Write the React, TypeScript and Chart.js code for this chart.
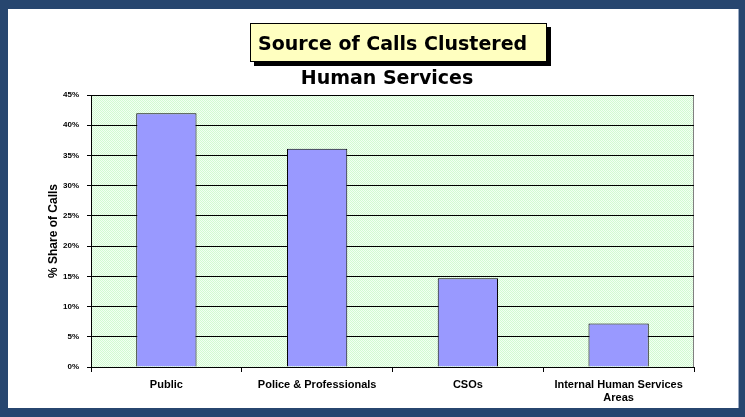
import React, { useEffect, useRef } from "react";
import { Chart, registerables } from "chart.js";

Chart.register(...registerables);

const categories: (string | string[])[] = [
  "Public",
  "Police & Professionals",
  "CSOs",
  ["Internal Human Services", "Areas"],
];
const shareOfCalls: number[] = [42.0, 36.1, 14.7, 7.2];
const yTickMax = 45;
const yTickStep = 5;
const mainTitle = "Source of Calls Clustered";
const subTitle = "Human Services";
const yAxisTitle = "% Share of Calls";

function makePattern(ctx: CanvasRenderingContext2D): CanvasPattern | string {
  const c = document.createElement("canvas");
  c.width = 2;
  c.height = 2;
  const p = c.getContext("2d");
  if (!p) return "#E4FDE4";
  p.fillStyle = "#F2FFF2";
  p.fillRect(0, 0, 2, 2);
  p.fillStyle = "#D2FAD2";
  p.fillRect(0, 0, 1, 1);
  p.fillRect(1, 1, 1, 1);
  return ctx.createPattern(c, "repeat") || "#E4FDE4";
}

const plotBgPlugin = {
  id: "plotBg",
  beforeDraw(chart: any) {
    const { ctx, chartArea } = chart;
    const { left, top, right, bottom } = chartArea;
    ctx.save();
    ctx.fillStyle = makePattern(ctx);
    ctx.fillRect(left, top, right - left, bottom - top);
    ctx.strokeStyle = "#808080";
    ctx.lineWidth = 1;
    ctx.strokeRect(left + 0.5, top + 0.5, right - left - 1, bottom - top);
    ctx.restore();
  },
};

export default function App() {
  const ref = useRef<HTMLCanvasElement | null>(null);

  useEffect(() => {
    if (!ref.current) return;
    const chart = new Chart(ref.current, {
      type: "bar",
      data: {
        labels: categories,
        datasets: [
          {
            data: shareOfCalls,
            backgroundColor: "#9999FF",
            borderColor: "#000000",
            borderWidth: 1,
            categoryPercentage: 1,
            barPercentage: 0.4,
          },
        ],
      },
      options: {
        animation: false,
        responsive: false,
        maintainAspectRatio: false,
        layout: { padding: { left: 46, top: 95, right: 51, bottom: 0 } },
        plugins: {
          legend: { display: false },
          tooltip: { enabled: false },
          title: { display: false },
        },
        scales: {
          x: {
            grid: {
              display: true,
              drawOnChartArea: false,
              drawTicks: true,
              tickLength: 5,
              color: "#000000",
              offset: true,
            },
            border: { display: true, color: "#000000", width: 1 },
            ticks: {
              color: "#000000",
              font: { family: "Liberation Sans, Arial, sans-serif", size: 11, weight: "bold" },
              maxRotation: 0,
              autoSkip: false,
              padding: 6,
            },
            afterFit: (s: any) => {
              s.height = 50;
            },
          },
          y: {
            min: 0,
            max: yTickMax,
            ticks: {
              stepSize: yTickStep,
              color: "#000000",
              font: { family: "Liberation Sans, Arial, sans-serif", size: 8, weight: "bold" },
              callback: (v: any) => `${v}%`,
              padding: 8,
            },
            grid: {
              color: "#000000",
              lineWidth: 1,
              drawTicks: true,
              tickLength: 4,
            },
            border: { display: true, color: "#000000", width: 1 },
            title: {
              display: true,
              text: yAxisTitle,
              color: "#000000",
              font: { family: "Liberation Sans, Arial, sans-serif", size: 12, weight: "bold" },
              padding: { top: 0, bottom: 0 },
            },
            afterFit: (s: any) => {
              s.width = 45;
            },
          },
        },
      },
      plugins: [plotBgPlugin],
    });
    return () => chart.destroy();
  }, []);

  return (
    <div
      style={{
        position: "absolute",
        left: 0,
        top: 0,
        width: 745,
        height: 417,
        background: "#27466F",
      }}
    >
      <div
        style={{
          position: "absolute",
          left: 8,
          top: 9,
          width: 731,
          height: 399,
          background: "#FFFFFF",
          borderRight: "1px solid #9AAAC4",
          boxSizing: "border-box",
        }}
      />
      <canvas
        ref={ref}
        width={745}
        height={417}
        style={{ position: "absolute", left: 0, top: 0, width: 745, height: 417 }}
      />
      <div
        style={{
          position: "absolute",
          left: 250,
          top: 23,
          width: 297,
          height: 39,
          background: "#FFFFC0",
          border: "1px solid #000000",
          boxShadow: "4px 4px 0 #000000",
          boxSizing: "border-box",
          display: "flex",
          alignItems: "center",
          justifyContent: "flex-start",
          paddingLeft: 7,
          fontFamily: "'DejaVu Sans', Verdana, sans-serif",
          fontWeight: "bold",
          fontSize: 19,
          color: "#000000",
          whiteSpace: "nowrap",
        }}
      >
        {mainTitle}
      </div>
      <div
        style={{
          position: "absolute",
          left: 0,
          top: 66,
          width: 774,
          textAlign: "center",
          fontFamily: "'DejaVu Sans', Verdana, sans-serif",
          fontWeight: "bold",
          fontSize: 19,
          color: "#000000",
          whiteSpace: "nowrap",
        }}
      >
        {subTitle}
      </div>
    </div>
  );
}
